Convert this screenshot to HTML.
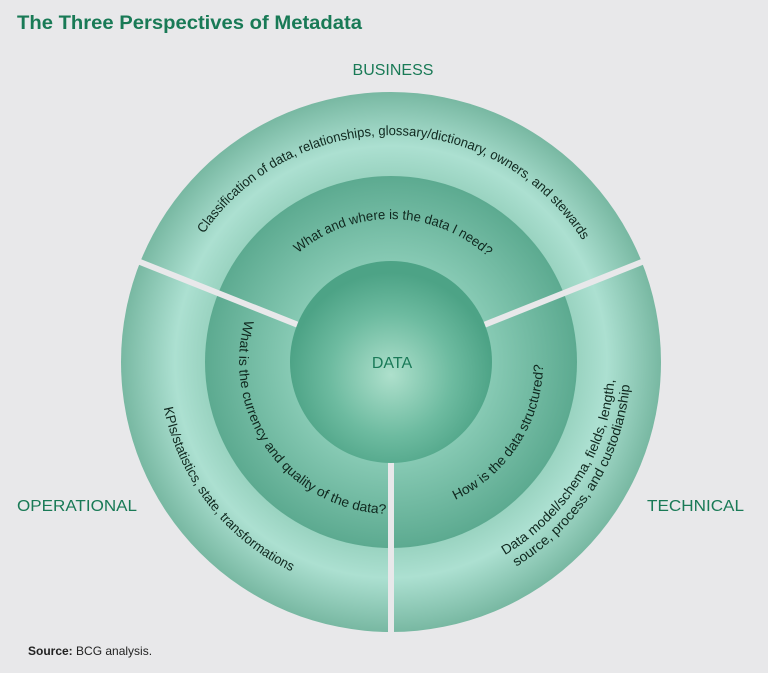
<!DOCTYPE html>
<html><head><meta charset="utf-8"><style>
html,body{margin:0;padding:0;background:#e8e8ea;}
svg{display:block;}
</style></head><body>
<svg width="768" height="673" viewBox="0 0 768 673" xmlns="http://www.w3.org/2000/svg">
<defs>
<radialGradient id="gOuter" cx="391" cy="362" r="270" gradientUnits="userSpaceOnUse">
<stop offset="0.68" stop-color="#98d2bf"/>
<stop offset="0.80" stop-color="#ace0d1"/>
<stop offset="1" stop-color="#78b8a2"/>
</radialGradient>
<radialGradient id="gMid" cx="391" cy="362" r="186" gradientUnits="userSpaceOnUse">
<stop offset="0.55" stop-color="#86c9b3"/>
<stop offset="1" stop-color="#5caa90"/>
</radialGradient>
<radialGradient id="gIn" cx="391" cy="375" r="102" gradientUnits="userSpaceOnUse">
<stop offset="0" stop-color="#aee0cc"/>
<stop offset="0.6" stop-color="#6dbba0"/>
<stop offset="1" stop-color="#4da386"/>
</radialGradient>
<path id="pTopM" d="M250.6,334.7 A143,143 0 0 1 532.2,339.6"/>
<path id="pTopO" d="M168.2,318.7 A227,227 0 0 1 615.2,326.5"/>
<path id="pLeftM" d="M281.7,256.4 A152,152 0 0 0 457.6,498.6"/>
<path id="pRightM" d="M331.6,501.9 A152,152 0 0 0 494.7,250.8"/>
<path id="pLeftO" d="M218.6,206.8 A232,232 0 0 0 499.9,566.8"/>
<path id="pRightO1" d="M307.1,569.7 A224,224 0 0 0 540.9,195.5"/>
<path id="pRightO2" d="M301.1,584.5 A240,240 0 0 0 551.6,183.7"/>
</defs>

<text x="17" y="29" font-family="Liberation Sans, sans-serif" font-size="19" font-weight="bold" fill="#197a56" textLength="345" lengthAdjust="spacingAndGlyphs">The Three Perspectives of Metadata</text>
<text x="393" y="75" text-anchor="middle" font-family="Liberation Sans, sans-serif" font-size="16" fill="#197a56">BUSINESS</text>
<text x="17" y="511" font-family="Liberation Sans, sans-serif" font-size="16" fill="#197a56" textLength="120" lengthAdjust="spacingAndGlyphs">OPERATIONAL</text>
<text x="647" y="511" font-family="Liberation Sans, sans-serif" font-size="16" fill="#197a56" textLength="97" lengthAdjust="spacingAndGlyphs">TECHNICAL</text>

<circle cx="391" cy="362" r="270" fill="url(#gOuter)"/>
<circle cx="391" cy="362" r="186" fill="url(#gMid)"/>
<g stroke="#e8e8ea" stroke-width="6">
<line x1="391" y1="362" x2="391" y2="640"/>
<line x1="391" y1="362" x2="130" y2="258"/>
<line x1="391" y1="362" x2="652" y2="258"/>
</g>
<circle cx="391" cy="362" r="101" fill="url(#gIn)"/>
<text x="392" y="368" text-anchor="middle" font-family="Liberation Sans, sans-serif" font-size="16" fill="#1a7a58">DATA</text>

<g font-family="Liberation Sans, sans-serif" font-size="13.5" fill="#10281f">
<text><textPath href="#pTopO" startOffset="50%" text-anchor="middle" textLength="448" lengthAdjust="spacingAndGlyphs">Classification of data, relationships, glossary/dictionary, owners, and stewards</textPath></text>
<text><textPath href="#pTopM" startOffset="50%" text-anchor="middle" textLength="207" lengthAdjust="spacingAndGlyphs">What and where is the data I need?</textPath></text>
<text><textPath href="#pLeftM" startOffset="50%" text-anchor="middle" textLength="276" lengthAdjust="spacingAndGlyphs">What is the currency and quality of the data?</textPath></text>
<text><textPath href="#pRightM" startOffset="50%" text-anchor="middle" textLength="170" lengthAdjust="spacingAndGlyphs">How is the data structured?</textPath></text>
<text><textPath href="#pLeftO" startOffset="50%" text-anchor="middle" textLength="215" lengthAdjust="spacingAndGlyphs">KPIs/statistics, state, transformations</textPath></text>
<text><textPath href="#pRightO1" startOffset="50%" text-anchor="middle" textLength="215" lengthAdjust="spacingAndGlyphs">Data model/schema, fields, length,</textPath></text>
<text><textPath href="#pRightO2" startOffset="50%" text-anchor="middle" textLength="222" lengthAdjust="spacingAndGlyphs">source, process, and custodianship</textPath></text>
</g>

<text x="28" y="655" font-family="Liberation Sans, sans-serif" font-size="12" fill="#222"><tspan font-weight="bold">Source:</tspan> BCG analysis.</text>
</svg>
</body></html>
